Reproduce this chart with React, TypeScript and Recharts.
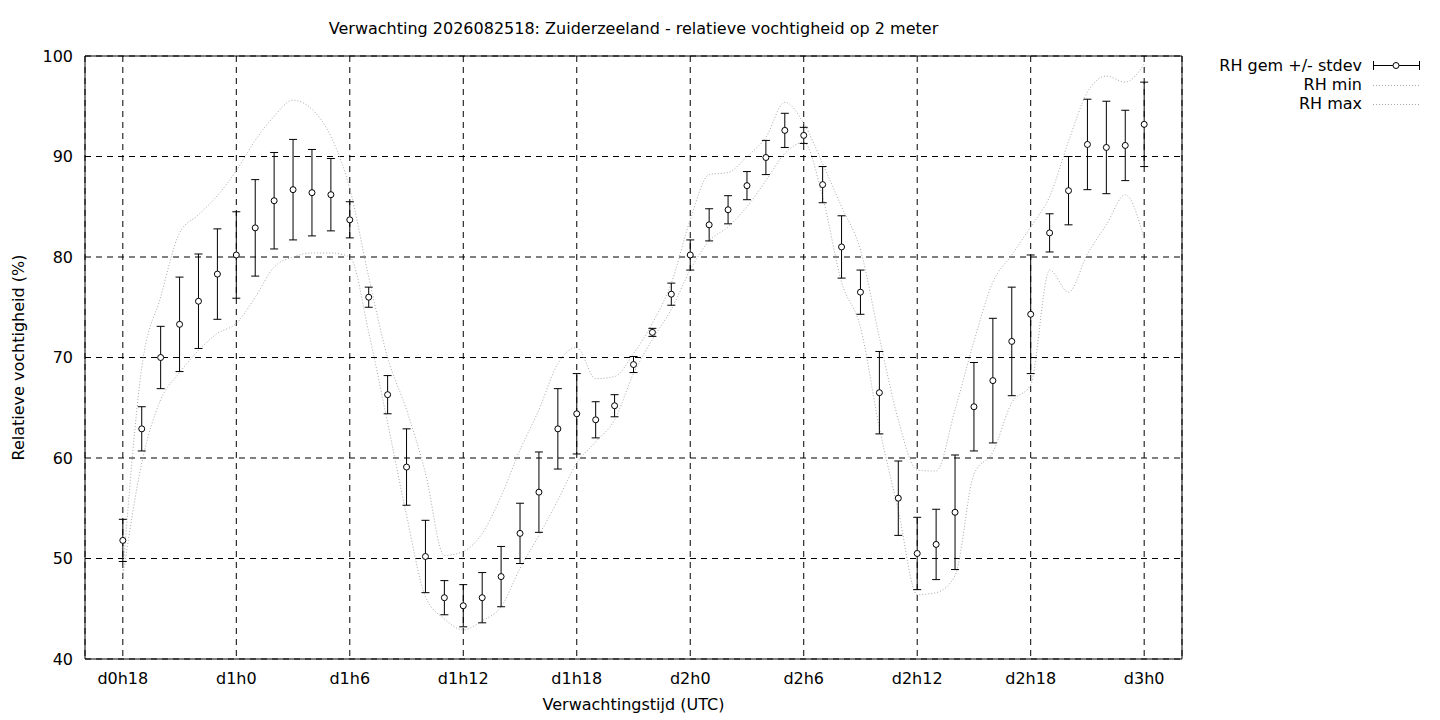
import React from "react";
import {
  ComposedChart,
  Line,
  XAxis,
  YAxis,
  CartesianGrid,
  ErrorBar,
  ReferenceArea,
  Legend,
  Label,
} from "recharts";

// forecast hours since the run (d0h18 = 18)
const HOURS = [
  18, 19, 20, 21, 22, 23, 24, 25, 26, 27, 28, 29, 30, 31, 32, 33, 34, 35, 36,
  37, 38, 39, 40, 41, 42, 43, 44, 45, 46, 47, 48, 49, 50, 51, 52, 53, 54, 55,
  56, 57, 58, 59, 60, 61, 62, 63, 64, 65, 66, 67, 68, 69, 70, 71, 72,
];

const RH_MEAN = [
  51.8, 62.9, 70.0, 73.3, 75.6, 78.3, 80.2, 82.9, 85.6, 86.7,
  86.4, 86.2, 83.7, 76.0, 66.3, 59.1, 50.2, 46.1, 45.3, 46.1,
  48.2, 52.5, 56.6, 62.9, 64.4, 63.8, 65.2, 69.3, 72.5, 76.3,
  80.2, 83.2, 84.7, 87.1, 89.9, 92.6, 92.1, 87.2, 81.0, 76.5,
  66.5, 56.0, 50.5, 51.4, 54.6, 65.1, 67.7, 71.6, 74.3, 82.4,
  86.6, 91.2, 90.9, 91.1, 93.2,
];

const RH_SD = [
  2.1, 2.2, 3.1, 4.7, 4.7, 4.5, 4.3, 4.8, 4.8, 5.0,
  4.3, 3.6, 1.8, 1.0, 1.9, 3.8, 3.6, 1.7, 2.1, 2.5,
  3.0, 3.0, 4.0, 4.0, 4.0, 1.8, 1.1, 0.8, 0.4, 1.1,
  1.5, 1.6, 1.4, 1.4, 1.7, 1.7, 0.8, 1.8, 3.1, 2.2,
  4.1, 3.7, 3.6, 3.5, 5.7, 4.4, 6.2, 5.4, 5.9, 1.9,
  3.4, 4.5, 4.6, 3.5, 4.2,
];

const RH_MIN = [
  48.2, 59.5, 65.8, 68.5, 70.7, 72.4, 73.4, 76.0, 79.0, 80.0,
  80.4, 80.4, 80.0, 72.5, 63.5, 54.3, 46.2, 44.0, 42.9, 43.8,
  45.2, 49.0, 52.3, 55.8, 59.5, 61.6, 63.8, 68.4, 71.8, 74.8,
  78.7, 81.6, 83.0, 85.0, 87.6, 90.3, 91.4, 86.0, 77.5, 73.0,
  63.0, 54.8, 46.4, 46.6, 48.3, 58.4, 60.6, 65.5, 67.3, 78.7,
  76.5, 80.3, 83.2, 86.2, 81.8,
];

const RH_MAX = [
  48.5, 69.0, 76.0, 82.4, 84.2, 86.1, 88.6, 91.6, 94.0, 95.6,
  94.7, 92.0, 86.8, 78.0, 70.0, 64.8, 58.5, 50.3, 50.7, 52.5,
  56.2, 60.8, 64.8, 69.4, 71.0, 67.9, 68.1, 70.4, 73.4, 77.4,
  83.7, 88.2, 88.4, 90.0, 91.9, 95.4, 93.3, 89.3, 85.0, 80.7,
  72.0, 63.8, 58.8, 58.7, 64.8, 71.6, 77.5, 80.2, 83.0, 86.0,
  91.5, 96.4, 98.0, 97.4, 99.2,
];

const X_TICKS = [18, 24, 30, 36, 42, 48, 54, 60, 66, 72];
const Y_TICKS = [40, 50, 60, 70, 80, 90, 100];

const FONT = "'DejaVu Sans', Verdana, sans-serif";
const FS = 16;
const DOT_GREY = "#a8a8a8";

const rows = HOURS.map((h, i) => ({
  h,
  mean: RH_MEAN[i],
  sd: RH_SD[i],
  min: RH_MIN[i],
  max: RH_MAX[i],
}));

const fmtHour = (h: number) => `d${Math.floor(h / 24)}h${h % 24}`;

function LegendBox() {
  return (
    <svg width={250} height={60} style={{ display: "block" }}>
      <g fontSize={FS} fill="#000">
        <text x={180} y={15} textAnchor="end">RH gem +/- stdev</text>
        <text x={180} y={34} textAnchor="end">RH min</text>
        <text x={180} y={53} textAnchor="end">RH max</text>
      </g>
      <g stroke="#000" strokeWidth={1}>
        <line x1={191} y1={9.5} x2={238} y2={9.5} />
        <line x1={191.5} y1={5} x2={191.5} y2={14} />
        <line x1={237.5} y1={5} x2={237.5} y2={14} />
        <circle cx={214} cy={9.5} r={3} fill="#fff" />
      </g>
      <g stroke={DOT_GREY} strokeWidth={1} strokeDasharray="1 2">
        <line x1={191} y1={29.5} x2={238} y2={29.5} />
        <line x1={191} y1={48.5} x2={238} y2={48.5} />
      </g>
    </svg>
  );
}

export default function App() {
  return (
    <div style={{ position: "relative", width: 1440, height: 720, fontFamily: FONT, color: "#000" }}>
      <style>{"body{margin:0;overflow:hidden;}"}</style>
      <div
        style={{
          position: "absolute",
          left: 85,
          width: 1097,
          top: 19,
          textAlign: "center",
          fontSize: FS,
          lineHeight: "normal",
        }}
      >
        Verwachting 2026082518: Zuiderzeeland - relatieve vochtigheid op 2 meter
      </div>
      <ComposedChart
        width={1440}
        height={720}
        data={rows}
        margin={{ top: 56, right: 8, bottom: 31, left: 10 }}
      >
        <CartesianGrid stroke="#000" strokeDasharray="6 5" />
        <XAxis
          dataKey="h"
          type="number"
          domain={[16, 74]}
          ticks={X_TICKS}
          tickFormatter={fmtHour}
          height={30}
          tickSize={0}
          tickMargin={14}
          tickLine={false}
          axisLine={false}
          tick={{ fontSize: FS, fill: "#000" }}
        >
          <Label
            value="Verwachtingstijd (UTC)"
            position="bottom"
            offset={10}
            style={{ fontSize: FS, fill: "#000" }}
          />
        </XAxis>
        <YAxis
          type="number"
          domain={[40, 100]}
          ticks={Y_TICKS}
          width={75}
          tickSize={0}
          tickMargin={12}
          tickLine={false}
          axisLine={false}
          tick={{ fontSize: FS, fill: "#000" }}
        >
          <Label
            value="Relatieve vochtigheid (%)"
            angle={-90}
            position="insideLeft"
            offset={8}
            style={{ fontSize: FS, fill: "#000", textAnchor: "middle" }}
          />
        </YAxis>
        <ReferenceArea x1={16} x2={74} y1={40} y2={100} fill="none" stroke="#000" strokeWidth={1} />
        <Legend
          layout="vertical"
          align="right"
          verticalAlign="top"
          content={() => <LegendBox />}
        />
        <Line
          dataKey="min"
          type="monotone"
          stroke={DOT_GREY}
          strokeWidth={1}
          strokeDasharray="1 2"
          dot={false}
          activeDot={false}
          isAnimationActive={false}
        />
        <Line
          dataKey="max"
          type="monotone"
          stroke={DOT_GREY}
          strokeWidth={1}
          strokeDasharray="1 2"
          dot={false}
          activeDot={false}
          isAnimationActive={false}
        />
        <Line
          dataKey="mean"
          stroke="none"
          dot={{ r: 3, fill: "#fff", stroke: "#000", strokeWidth: 1 }}
          activeDot={false}
          isAnimationActive={false}
        >
          <ErrorBar dataKey="sd" width={4} stroke="#000" strokeWidth={1} isAnimationActive={false} />
        </Line>
      </ComposedChart>
    </div>
  );
}
